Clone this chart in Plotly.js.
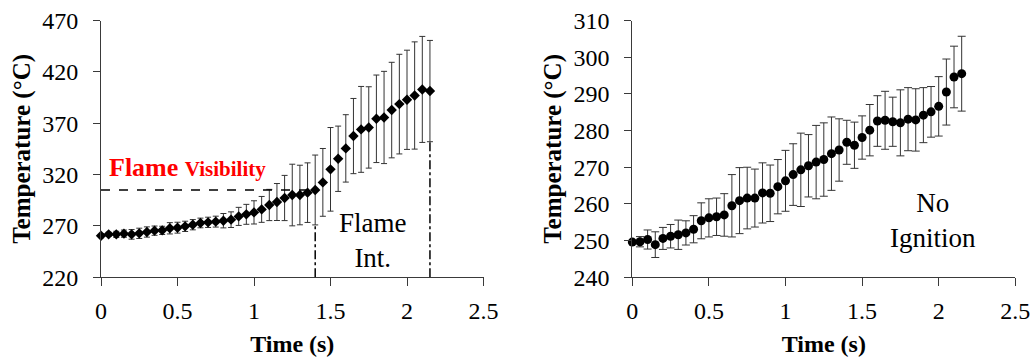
<!DOCTYPE html>
<html>
<head>
<meta charset="utf-8">
<script src="https://cdn.plot.ly/plotly-3.0.1.min.js"></script>
<style>html,body{margin:0;padding:0;background:#fff;}#chart{width:1035px;height:363px;}</style>
</head>
<body>
<div id="chart"></div>
<script>
// ---- data ----
const timeS = [0,0.05,0.1,0.15,0.2,0.25,0.3,0.35,0.4,0.45,0.5,0.55,0.6,0.65,0.7,0.75,0.8,0.85,0.9,0.95,1.0,1.05,1.1,1.15,1.2,1.25,1.3,1.35,1.4,1.45,1.5,1.55,1.6,1.65,1.7,1.75,1.8,1.85,1.9,1.95,2.0,2.05,2.1,2.15];

const tempIgnition = [260.5,261.8,261.8,262.5,261.8,262.8,264.1,265.4,265.7,267.7,268.3,269.6,271.2,272.9,273.5,274.2,275.1,276.1,279.3,281.3,283.2,286.1,290.4,293.3,297.2,300.1,300.1,302.4,305.0,312.4,325.1,335.4,345.5,357.5,364.0,365.9,374.3,375.6,382.8,388.6,392.8,397.0,402.9,401.3];
const errIgnition = [2,2,3,3.5,4.7,5,5,4.5,4,5.5,5.3,5,5,4.7,5,5.3,7,7.6,8.8,9.7,11.3,12.6,15.2,18,22,30,29,29,34,33,40.7,31.8,32.8,36.6,41.8,39.6,42.6,44.9,46.5,48.5,48.3,52.2,51.6,49.3];

const tempNoIgnition = [249.6,249.7,250.3,248.9,250.6,251.2,251.6,252.1,253.1,255.4,256.2,256.5,257.0,259.5,260.9,261.6,261.6,263.0,262.9,264.7,266.3,268.0,269.3,270.4,271.4,272.1,273.7,274.7,276.8,276.0,278.1,280.1,282.6,282.8,282.4,282.1,283.1,282.9,284.2,285.1,286.6,290.5,294.6,295.5];
const errNoIgnition = [0.5,1.4,2.6,3.5,3,3.2,4,3.3,3.7,4.9,5.2,5.1,5.8,8.5,9,8.4,7.9,8.2,7.7,7.4,8.3,8.4,10,8.5,10,10,10,8.5,6,6.3,5.9,7,6.9,7.9,6.7,9,8.6,8.5,7.5,6.9,8.1,9,8.4,10.2];

const xTickVals = [0,0.5,1,1.5,2,2.5];
const xTickText = ['0','0.5','1','1.5','2','2.5'];
const yTicksLeft = [220,270,320,370,420,470];
const yTicksRight = [240,250,260,270,280,290,300,310];

const flameVisIndex = 28;   // t = 1.4 s
const flameEndIndex = 43;   // t = 2.15 s

// ---- styling ----
const SERIF = 'Liberation Serif';
const axisColor = '#3a3a3a';

const traces = [
  {x: timeS, y: tempIgnition, xaxis: 'x', yaxis: 'y', mode: 'markers', type: 'scatter', cliponaxis: false,
   marker: {symbol: 'diamond', size: 8, color: '#000'},
   error_y: {type: 'data', array: errIgnition, visible: true, color: '#333', thickness: 1, width: 3}},
  {x: timeS, y: tempNoIgnition, xaxis: 'x2', yaxis: 'y2', mode: 'markers', type: 'scatter', cliponaxis: false,
   marker: {symbol: 'circle', size: 9, color: '#000'},
   error_y: {type: 'data', array: errNoIgnition, visible: true, color: '#333', thickness: 1, width: 4}}
];

function xAxis(domain, anchor) {
  return {domain: domain, anchor: anchor, range: [0, 2.5], tickvals: xTickVals, ticktext: xTickText,
    showline: true, linecolor: axisColor, linewidth: 1, ticks: 'outside', ticklen: 8, tickcolor: axisColor,
    showgrid: false, zeroline: false, tickfont: {family: SERIF, size: 24, color: '#000'},
    ticklabelstandoff: 4,
    title: {text: '<b>Time (s)</b>', font: {family: SERIF, size: 24, color: '#000'}, standoff: 12}};
}
function yAxis(domain, anchor, range, ticks) {
  return {domain: domain, anchor: anchor, range: range, tickvals: ticks,
    showline: true, linecolor: axisColor, linewidth: 1, ticks: 'outside', ticklen: 7, tickcolor: axisColor,
    showgrid: false, zeroline: false, tickfont: {family: SERIF, size: 24, color: '#000'},
    ticklabelstandoff: 10,
    title: {text: '<b>Temperature (°C)</b>', font: {family: SERIF, size: 25, color: '#000'}, standoff: 4}};
}

const yDom = [1 - 277.3 / 363, 1 - 20.5 / 363];
const layout = {
  width: 1035, height: 363,
  margin: {l: 0, r: 0, t: 0, b: 0},
  font: {family: SERIF, color: '#000'},
  paper_bgcolor: '#fff', plot_bgcolor: '#fff',
  showlegend: false,
  xaxis: xAxis([101 / 1035, 483.5 / 1035], 'y'),
  yaxis: yAxis(yDom, 'x', [220, 470], yTicksLeft),
  xaxis2: xAxis([632.3 / 1035, 1015.3 / 1035], 'y2'),
  yaxis2: yAxis(yDom, 'x2', [240, 310], yTicksRight),
  shapes: [
    {type: 'line', xref: 'x', yref: 'y', x0: 0, x1: timeS[flameVisIndex],
     y0: tempIgnition[flameVisIndex], y1: tempIgnition[flameVisIndex],
     line: {color: '#000', width: 1.5, dash: 'dash'}},
    {type: 'line', xref: 'x', yref: 'y', x0: timeS[flameVisIndex], x1: timeS[flameVisIndex],
     y0: 220, y1: tempIgnition[flameVisIndex] - errIgnition[flameVisIndex],
     line: {color: '#000', width: 1.5, dash: 'dashdot'}},
    {type: 'line', xref: 'x', yref: 'y', x0: timeS[flameEndIndex], x1: timeS[flameEndIndex],
     y0: 220, y1: tempIgnition[flameEndIndex] - errIgnition[flameEndIndex],
     line: {color: '#000', width: 1.5, dash: 'dashdot'}}
  ],
  annotations: [
    {xref: 'x', yref: 'y', x: 0.04, y: 327, xanchor: 'left', yanchor: 'middle', showarrow: false,
     text: '<b><span style="font-size:26px">Flame</span> <span style="font-size:21px">Visibility</span></b>',
     font: {family: SERIF, size: 26, color: '#ff0000'}},
    {xref: 'x', yref: 'y', x: 1.78, y: 256, xanchor: 'center', yanchor: 'middle', showarrow: false,
     text: 'Flame<br>Int.', font: {family: SERIF, size: 27, color: '#000'}},
    {xref: 'x2', yref: 'y2', x: 1.965, y: 255.5, xanchor: 'center', yanchor: 'middle', showarrow: false,
     text: 'No<br>Ignition', font: {family: SERIF, size: 27, color: '#000'}}
  ]
};

Plotly.newPlot('chart', traces, layout, {staticPlot: true, displayModeBar: false});
</script>
</body>
</html>
